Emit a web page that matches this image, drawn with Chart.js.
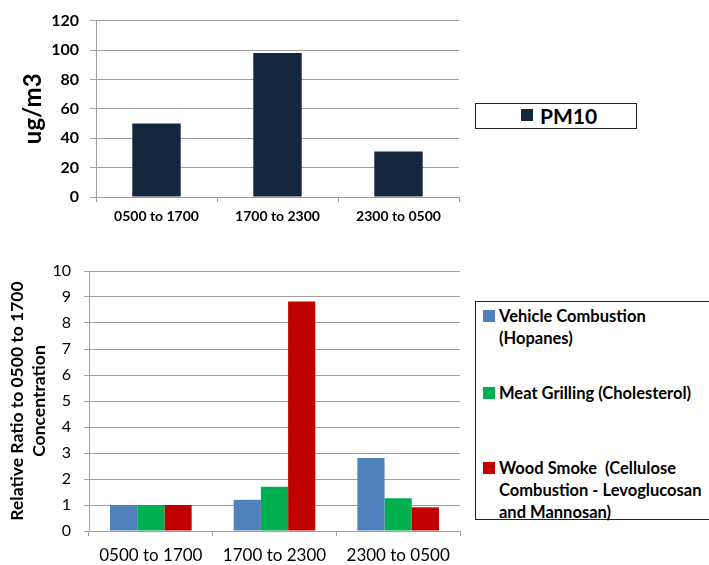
<!DOCTYPE html>
<html>
<head>
<meta charset="utf-8">
<title>PM10 and source markers</title>
<script src="https://cdn.jsdelivr.net/npm/chart.js@4/dist/chart.umd.min.js"></script>
<style>
    body { margin: 0; background: #fff; width: 709px; height: 565px; overflow: hidden; position: relative; font-family: Lato, "Liberation Sans", sans-serif; }
    #pmCanvas { position: absolute; left: 0; top: 0; }
    #ratioCanvas { position: absolute; left: 0; top: 240px; }
    .legend-box { position: absolute; border: 1px solid #222; background: #fff; font-weight: bold; color: #000; }
    #pm_legend { left: 475px; top: 103px; width: 160px; height: 24px; font-size: 21px; line-height: 26px; }
    #ratio_legend { left: 475px; top: 301px; width: 260px; height: 217px; font-size: 16.5px; line-height: 22px; }
    .legend-item { position: absolute; }
    .swatch { position: absolute; width: 12px; height: 12px; }
</style>
</head>
<body>
<canvas id="pmCanvas" width="470" height="230"></canvas>
<canvas id="ratioCanvas" width="470" height="325"></canvas>
<div id="pm_legend" class="legend-box"></div>
<div id="ratio_legend" class="legend-box"></div>
<script>
// Chart values
var periods = ["0500 to 1700", "1700 to 2300", "2300 to 0500"];
var pm10Values = [50, 98, 31];

var vehicleRatio = [1, 1.2, 2.81];
var meatRatio = [1, 1.7, 1.26];
var woodRatio = [1, 8.83, 0.91];

var ratioLabels = [
    ["Vehicle Combustion", "(Hopanes)"],
    ["Meat Grilling (Cholesterol)"],
    ["Wood Smoke  (Cellulose", "Combustion - Levoglucosan", "and Mannosan)"]
];

var gridGray = "#a0a0a0";
var fontFamily = "Lato, 'Liberation Sans', sans-serif";

// Top chart: PM10 concentration
var pmChart = new Chart(document.getElementById("pmCanvas"), {
    type: "bar",
    data: {
        labels: periods,
        datasets: [
            {
                label: "PM10",
                data: pm10Values,
                backgroundColor: "#15263f",
                borderWidth: 0,
                categoryPercentage: 1,
                barPercentage: 0.4
            }
        ]
    },
    options: {
        responsive: false,
        animation: false,
        layout: { padding: { top: 14, right: 11, left: 0, bottom: 0 } },
        plugins: { legend: { display: false }, tooltip: { enabled: false } },
        scales: {
            x: {
                grid: { drawOnChartArea: false, color: gridGray, tickLength: 5 },
                border: { color: gridGray },
                ticks: { color: "#000", padding: 6, font: { family: fontFamily, size: 14, weight: "bold" } },
                afterFit: function (scale) { scale.height = 33; }
            },
            y: {
                min: 0,
                max: 120,
                ticks: { stepSize: 20, color: "#000", padding: 11, font: { family: fontFamily, size: 16, weight: "bold" } },
                grid: { color: gridGray, tickLength: 6 },
                border: { color: gridGray },
                title: {
                    display: true,
                    text: "ug/m3",
                    color: "#000",
                    padding: { top: 19, bottom: 0 },
                    font: { family: fontFamily, size: 24, weight: "bold", lineHeight: 1.2 }
                },
                afterFit: function (scale) { scale.width = 96; }
            }
        }
    }
});

// Bottom chart: ratios relative to the 0500 to 1700 period
var ratioChart = new Chart(document.getElementById("ratioCanvas"), {
    type: "bar",
    data: {
        labels: periods,
        datasets: [
            { label: ratioLabels[0].join(" "), data: vehicleRatio, backgroundColor: "#4f81bd" },
            { label: ratioLabels[1].join(" "), data: meatRatio, backgroundColor: "#00b050" },
            { label: ratioLabels[2].join(" "), data: woodRatio, backgroundColor: "#c00000" }
        ]
    },
    options: {
        responsive: false,
        animation: false,
        datasets: { bar: { categoryPercentage: 0.66, barPercentage: 1, borderWidth: 0 } },
        layout: { padding: { top: 31, right: 10, left: 0, bottom: 0 } },
        plugins: { legend: { display: false }, tooltip: { enabled: false } },
        scales: {
            x: {
                grid: { drawOnChartArea: false, color: gridGray, tickLength: 5 },
                border: { color: gridGray },
                ticks: { color: "#000", padding: 9, font: { family: fontFamily, size: 17 } },
                afterFit: function (scale) { scale.height = 34; }
            },
            y: {
                min: 0,
                max: 10,
                ticks: { stepSize: 1, color: "#000", padding: 13, font: { family: fontFamily, size: 16 } },
                grid: { color: gridGray, tickLength: 5 },
                border: { color: gridGray },
                title: {
                    display: true,
                    text: ["Relative Ratio to 0500 to 1700", "Concentration"],
                    color: "#000",
                    padding: { top: 6, bottom: 0 },
                    font: { family: fontFamily, size: 17.5, weight: "bold", lineHeight: 1.26 }
                },
                afterFit: function (scale) { scale.width = 89; }
            }
        }
    }
});

// Legends drawn as html boxes, taken from the chart datasets
function buildLegend(boxId, chart, lines, itemTops, swatchLeft, textLeft, swatchTop) {
    var box = document.getElementById(boxId);
    chart.data.datasets.forEach(function (ds, i) {
        var item = document.createElement("div");
        item.className = "legend-item";
        item.style.top = itemTops[i] + "px";
        item.style.left = "0px";

        var sw = document.createElement("div");
        sw.className = "swatch";
        sw.style.background = ds.backgroundColor;
        sw.style.left = swatchLeft + "px";
        sw.style.top = swatchTop + "px";
        item.appendChild(sw);

        var txt = document.createElement("div");
        txt.style.position = "absolute";
        txt.style.left = textLeft + "px";
        txt.style.whiteSpace = "pre";
        txt.textContent = lines[i].join("\n");
        item.appendChild(txt);
        box.appendChild(item);
    });
}

buildLegend("pm_legend", pmChart, [["PM10"]], [-1], 45, 64, 6);
buildLegend("ratio_legend", ratioChart, ratioLabels, [3, 80, 155], 7, 23, 5);
</script>
</body>
</html>
